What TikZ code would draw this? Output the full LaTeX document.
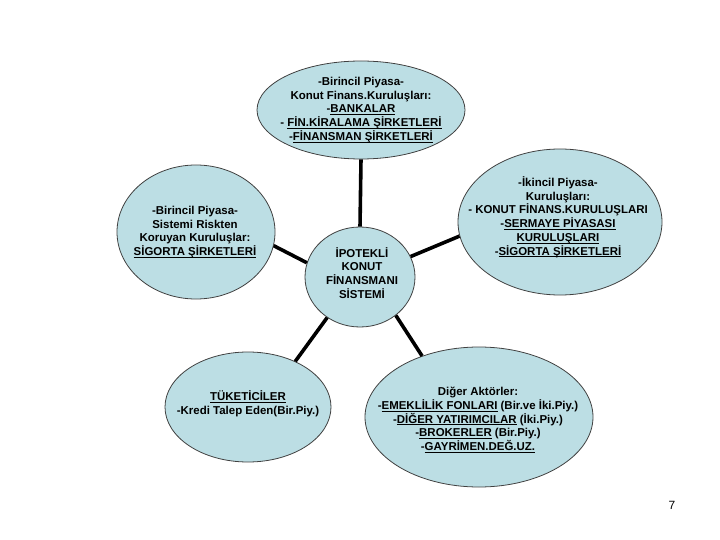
\documentclass[tikz,border=0pt]{standalone}
\usepackage{fontspec}
\setmainfont{Liberation Sans}
\usetikzlibrary{shapes.geometric}
\definecolor{bubble}{RGB}{188,222,228}
\lineskiplimit=-20pt
\newcommand{\myul}[1]{\setbox0\hbox{#1}\rlap{\smash{\rule[-2.2pt]{\wd0}{0.9pt}}}\box0\relax}
\tikzset{
  bub/.style={ellipse, draw=black!75, line width=0.8pt, fill=bubble, inner sep=0pt},
  txt/.style={align=center, font=\fontsize{11.5}{13.8}\selectfont\bfseries, inner sep=0pt},
  link/.style={line width=3.6pt, black}
}
\begin{document}
\begin{tikzpicture}[x=1bp,y=-1bp]
\useasboundingbox (0,0) rectangle (720,540);
% bubbles
\node[bub, minimum width=208bp, minimum height=98bp] (T) at (361,110) {};
\node[bub, minimum width=158bp, minimum height=134bp] (L) at (196,232) {};
\node[bub, minimum width=204bp, minimum height=146bp] (R) at (560,222) {};
\node[bub, minimum width=110bp, minimum height=100bp] (C) at (360,277) {};
\node[bub, minimum width=166bp, minimum height=110bp] (BL) at (248,407) {};
\node[bub, minimum width=228bp, minimum height=140bp] (BR) at (479,417) {};
% texts
\node[txt] (Tt) at (361,110) {-Birincil Piyasa-\\Konut Finans.Kuruluşları:\\-\myul{BANKALAR}\\- \myul{FİN.KİRALAMA ŞİRKETLERİ}\\-\myul{FİNANSMAN ŞİRKETLERİ}};
\node[txt] (Lt) at (195,232) {-Birincil Piyasa-\\Sistemi Riskten\\Koruyan Kuruluşlar:\\\myul{SİGORTA ŞİRKETLERİ}};
\node[txt] (Rt) at (558,217) {-İkincil Piyasa-\\Kuruluşları:\\- KONUT FİNANS.KURULUŞLARI\\-\myul{SERMAYE PİYASASI}\\\myul{KURULUŞLARI}\\-\myul{SİGORTA ŞİRKETLERİ}};
\node[txt] (Ct) at (362,273) {İPOTEKLİ\\KONUT\\FİNANSMANI\\SİSTEMİ};
\node[txt] (BLt) at (248,404) {\myul{TÜKETİCİLER}\\-Kredi Talep Eden(Bir.Piy.)};
\node[txt] (BRt) at (478,419) {Diğer Aktörler:\\-\myul{EMEKLİLİK FONLARI} (Bir.ve İki.Piy.)\\-\myul{DİĞER YATIRIMCILAR} (İki.Piy.)\\-\myul{BROKERLER} (Bir.Piy.)\\-\myul{GAYRİMEN.DEĞ.UZ.}};
\node[font=\fontsize{12}{14}\selectfont] (pg) at (672,505) {7};
% connectors
\draw[link] (T.south) -- (C.north);
\draw[link] (L.-10) -- (C.165);
\draw[link] (R.188) -- (C.22);
\draw[link] (BL.44) -- (C.-129);
\draw[link] (BR.133) -- (C.-47);
\end{tikzpicture}
\end{document}
